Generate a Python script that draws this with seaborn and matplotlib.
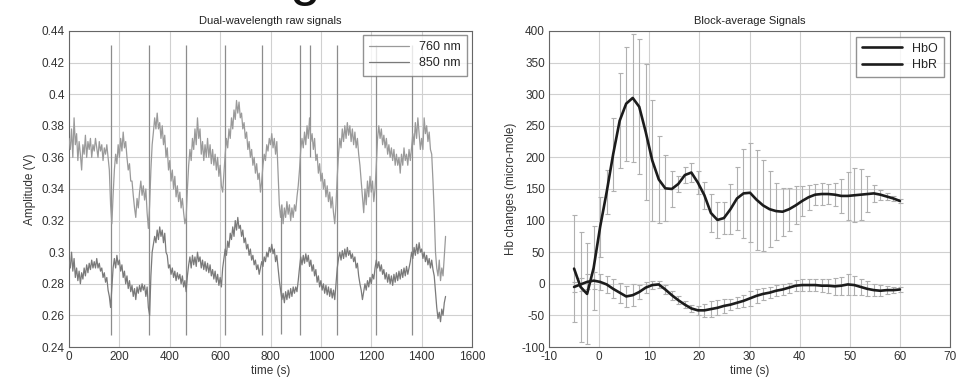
import numpy as np
import pandas as pd
import seaborn as sns
import matplotlib.pyplot as plt
from matplotlib.ticker import FuncFormatter

t_raw = np.arange(0, 1500, 5)

sig_760 = [
    0.372, 0.365, 0.378, 0.36, 0.385, 0.368, 0.375, 0.358, 0.37, 0.362,
    0.352, 0.368, 0.362, 0.374, 0.36, 0.37, 0.365, 0.372, 0.36, 0.368,
    0.364, 0.372, 0.366, 0.36, 0.37, 0.364, 0.368, 0.358, 0.366, 0.362,
    0.368, 0.36, 0.352, 0.33, 0.318, 0.336, 0.352, 0.362, 0.356, 0.368,
    0.36, 0.372, 0.364, 0.376, 0.366, 0.37, 0.36, 0.352, 0.356, 0.345,
    0.345, 0.336, 0.328, 0.322, 0.334, 0.328, 0.338, 0.345, 0.336, 0.342,
    0.333, 0.34, 0.325, 0.315, 0.33, 0.352, 0.368, 0.376, 0.385, 0.378,
    0.388, 0.378, 0.382, 0.372, 0.38, 0.368, 0.374, 0.36, 0.366, 0.352,
    0.358, 0.345, 0.352, 0.34, 0.348, 0.335, 0.342, 0.332, 0.338, 0.328,
    0.334, 0.325, 0.318, 0.322, 0.34, 0.355, 0.365, 0.358, 0.372, 0.365,
    0.378, 0.368, 0.385, 0.372, 0.378, 0.362, 0.37, 0.358, 0.368, 0.36,
    0.372, 0.36, 0.368, 0.356, 0.365, 0.355, 0.362, 0.352, 0.36, 0.348,
    0.355, 0.342, 0.338, 0.35, 0.362, 0.372, 0.366, 0.378, 0.372, 0.385,
    0.378, 0.39, 0.384, 0.396, 0.388, 0.395, 0.385, 0.388, 0.378, 0.382,
    0.372, 0.376, 0.365, 0.37, 0.36, 0.365, 0.355, 0.36, 0.35, 0.356,
    0.346, 0.35, 0.338, 0.345, 0.355, 0.362, 0.358, 0.368, 0.364, 0.372,
    0.368, 0.375, 0.366, 0.372, 0.362, 0.37, 0.35, 0.33, 0.322, 0.33,
    0.318, 0.328, 0.322, 0.332, 0.324, 0.33, 0.32, 0.328, 0.322, 0.33,
    0.326, 0.335, 0.342, 0.352, 0.365, 0.372, 0.366, 0.376, 0.368, 0.38,
    0.372, 0.385, 0.37, 0.375, 0.365, 0.372, 0.358, 0.362, 0.35, 0.356,
    0.345, 0.35, 0.34, 0.346, 0.335, 0.342, 0.332, 0.338, 0.328, 0.335,
    0.325, 0.318, 0.33, 0.348, 0.362, 0.372, 0.366, 0.378, 0.37, 0.38,
    0.372, 0.382, 0.374, 0.38, 0.37, 0.378, 0.368, 0.376, 0.366, 0.372,
    0.362, 0.355, 0.345, 0.335, 0.325, 0.34, 0.33, 0.345, 0.335, 0.348,
    0.338, 0.345, 0.332, 0.34, 0.355, 0.372, 0.38, 0.372, 0.378, 0.368,
    0.374, 0.366, 0.372, 0.362, 0.368, 0.36, 0.366, 0.358, 0.365, 0.355,
    0.362, 0.355, 0.36, 0.35, 0.362, 0.355, 0.366, 0.358, 0.362, 0.355,
    0.365, 0.358, 0.366, 0.375, 0.368, 0.382, 0.372, 0.385, 0.375, 0.365,
    0.372, 0.365, 0.385, 0.375, 0.38, 0.37, 0.376, 0.365, 0.362, 0.345,
    0.325, 0.3, 0.29, 0.285, 0.295, 0.282, 0.29, 0.285, 0.298, 0.31,
]

sig_850 = [
    0.295, 0.29, 0.3, 0.288, 0.296, 0.284, 0.29, 0.282, 0.288, 0.28,
    0.287, 0.283, 0.29, 0.285, 0.292, 0.287, 0.293, 0.289, 0.295, 0.29,
    0.294, 0.29, 0.296, 0.29, 0.293, 0.288, 0.29, 0.284, 0.287, 0.281,
    0.284, 0.276, 0.272, 0.265, 0.278, 0.29, 0.296, 0.29, 0.298, 0.292,
    0.295, 0.288, 0.292, 0.284, 0.288, 0.28, 0.285, 0.277, 0.282, 0.275,
    0.279, 0.272, 0.277, 0.27, 0.278, 0.274, 0.279, 0.275, 0.28, 0.276,
    0.279, 0.272, 0.278, 0.265, 0.26, 0.285, 0.3, 0.305, 0.31, 0.306,
    0.314, 0.308, 0.316, 0.31, 0.314, 0.306, 0.312, 0.3, 0.298, 0.29,
    0.292, 0.286, 0.29, 0.284, 0.288, 0.282, 0.287, 0.283, 0.286, 0.28,
    0.285, 0.278, 0.282, 0.275, 0.285, 0.292, 0.297, 0.29, 0.298, 0.292,
    0.297, 0.291, 0.3, 0.294, 0.297, 0.29, 0.295, 0.289, 0.294, 0.288,
    0.293, 0.287, 0.292, 0.285, 0.289, 0.283, 0.288, 0.281, 0.286, 0.279,
    0.284, 0.278, 0.29, 0.296, 0.302, 0.298, 0.307, 0.303, 0.312, 0.308,
    0.316, 0.31, 0.32, 0.314, 0.322, 0.315, 0.317, 0.31, 0.314, 0.306,
    0.309, 0.302, 0.305, 0.298, 0.302, 0.295, 0.298, 0.292, 0.295, 0.289,
    0.292, 0.286, 0.29, 0.294, 0.291, 0.297, 0.294, 0.3, 0.297, 0.303,
    0.3, 0.305, 0.299, 0.302, 0.294, 0.298, 0.29, 0.282, 0.276, 0.27,
    0.274, 0.268, 0.275, 0.27, 0.276, 0.271, 0.277, 0.272, 0.278, 0.274,
    0.278, 0.275, 0.282, 0.29, 0.297, 0.292, 0.298, 0.293, 0.299, 0.294,
    0.298, 0.291, 0.295, 0.288, 0.292, 0.285, 0.289, 0.281, 0.285, 0.278,
    0.282, 0.276, 0.28, 0.274, 0.279, 0.273, 0.278, 0.272, 0.277, 0.271,
    0.276, 0.27, 0.28, 0.29, 0.296, 0.3, 0.295, 0.301, 0.296, 0.302,
    0.297, 0.303, 0.298, 0.301, 0.296, 0.299, 0.294, 0.297, 0.29, 0.293,
    0.285, 0.28, 0.276, 0.27, 0.275, 0.28, 0.276, 0.282, 0.278, 0.284,
    0.28, 0.286, 0.283, 0.29, 0.295, 0.29, 0.294, 0.288, 0.292, 0.286,
    0.289, 0.283, 0.287, 0.281, 0.286, 0.28, 0.285, 0.279, 0.286, 0.281,
    0.287, 0.282, 0.288, 0.283, 0.289, 0.284, 0.29, 0.285, 0.291, 0.286,
    0.29, 0.294, 0.3, 0.296, 0.303, 0.298, 0.305, 0.299, 0.306, 0.3,
    0.302, 0.296, 0.3, 0.294, 0.298, 0.292, 0.296, 0.29, 0.295, 0.289,
    0.285, 0.275, 0.265, 0.258, 0.262, 0.256, 0.264, 0.26, 0.268, 0.272,
]

# stimulus marks and a couple of sharp spikes
stim_times = [165, 316, 464, 618, 765, 916, 1062, 1220, 1360]
stim_lo, stim_hi = 0.2475, 0.431
spike_t = [842, 955]
spike_lo = [0.248, 0.36]
spike_hi = [0.33, 0.431]

# ---- block averages ----
t_blk = [-5.0, -3.7, -2.4, -1.1, 0.2, 1.5, 2.8, 4.1, 5.4, 6.7, 8.0, 9.3, 10.6,
         11.9, 13.2, 14.5, 15.8, 17.1, 18.4, 19.7, 21.0, 22.3, 23.6, 24.9, 26.2,
         27.5, 28.8, 30.1, 31.4, 32.7, 34.0, 35.3, 36.6, 37.9, 39.2, 40.5, 41.8,
         43.1, 44.4, 45.7, 47.0, 48.3, 49.6, 50.9, 52.2, 53.5, 54.8, 56.1, 57.4,
         58.7, 60.0]
hbo = [24, -5, -16, 25, 90, 145, 205, 258, 285, 294, 280, 240, 195, 165, 151,
       150, 158, 172, 176, 160, 140, 112, 101, 104, 118, 135, 143, 144, 133, 124,
       118, 115, 114, 118, 124, 131, 137, 141, 142, 142, 141, 139, 139, 140, 141,
       142, 143, 141, 138, 135, 131]
hbo_err = [85, 87, 80, 66, 48, 35, 58, 75, 90, 101, 107, 108, 96, 69, 52,
           28, 13, 12, 15, 18, 21, 30, 28, 25, 40, 50, 70, 78, 79, 72,
           60, 45, 38, 34, 30, 24, 20, 17, 17, 16, 18, 27, 38, 43, 40,
           28, 14, 8, 5, 4, 3]
hbr = [-5, -1, 3, 5, 3, -1, -8, -14, -20, -18, -13, -6, -2, -1, -9,
       -18, -26, -33, -39, -42, -42, -40, -38, -35, -33, -30, -27, -23, -19, -16,
       -14, -11, -9, -6, -3, -2, -2, -2, -3, -3, -4, -3, -1, -2, -5,
       -8, -10, -11, -10, -10, -9]
hbr_err = [8, 10, 12, 13, 13, 13, 15, 16, 16, 17, 11, 9, 7, 6, 7,
           7, 6, 6, 6, 7, 10, 12, 12, 11, 9, 9, 10, 12, 11, 10,
           9, 9, 8, 8, 9, 10, 10, 10, 10, 11, 13, 14, 16, 15, 13,
           12, 9, 9, 6, 5, 4]

sns.set_style("white")
plt.rcParams['font.family'] = ['Liberation Sans', 'DejaVu Sans']
plt.rcParams['font.size'] = 8.5
plt.rcParams['axes.unicode_minus'] = False

raw = pd.DataFrame({'time': np.concatenate([t_raw, t_raw]),
                    'amp': np.concatenate([sig_760, sig_850]),
                    'wl': ['760 nm'] * len(t_raw) + ['850 nm'] * len(t_raw)})

fig = plt.figure(figsize=(9.71, 3.79), dpi=100)
ax1 = fig.add_axes([0.0711, 0.0844, 0.4150, 0.834])
ax2 = fig.add_axes([0.5654, 0.0844, 0.4130, 0.834])

# left: raw signals
ax1.vlines(stim_times, stim_lo, stim_hi, color='#8c8c8c', lw=0.9, zorder=2)
ax1.vlines(spike_t, spike_lo, spike_hi, color='#8c8c8c', lw=0.9, zorder=2)
sns.lineplot(data=raw, x='time', y='amp', hue='wl', estimator=None, sort=False,
             palette={'760 nm': '#9a9a9a', '850 nm': '#7a7a7a'}, lw=0.9,
             ax=ax1, zorder=3)
ax1.set_xlim(0, 1600)
ax1.set_ylim(0.24, 0.44)
ax1.set_xticks(np.arange(0, 1601, 200))
ax1.set_yticks(np.arange(0.24, 0.4401, 0.02))
ax1.yaxis.set_major_formatter(FuncFormatter(lambda v, p: f'{v:.2f}'.rstrip('0')))
ax1.set_title('Dual-wavelength raw signals', fontsize=8, pad=5, color='#222222')
ax1.set_xlabel('time (s)', labelpad=1)
ax1.set_ylabel('Amplitude (V)', labelpad=4)
ax1.legend(loc='upper right', bbox_to_anchor=(0.987, 0.988), frameon=True,
           fancybox=False, edgecolor='#777777', handlelength=3.2, fontsize=9,
           borderpad=0.5, labelspacing=0.35, borderaxespad=0)

# right: block average
ax2.errorbar(t_blk, hbo, yerr=hbo_err, fmt='none', ecolor='#b0b0b0',
             elinewidth=0.8, capsize=1.8, capthick=0.8, zorder=2)
ax2.errorbar(t_blk, hbr, yerr=hbr_err, fmt='none', ecolor='#b0b0b0',
             elinewidth=0.8, capsize=1.8, capthick=0.8, zorder=2)
sns.lineplot(x=t_blk, y=hbo, color='#1c1c1c', lw=1.9, label='HbO', ax=ax2, zorder=3)
sns.lineplot(x=t_blk, y=hbr, color='#1c1c1c', lw=1.9, label='HbR', ax=ax2, zorder=3)
ax2.set_xlim(-10, 70)
ax2.set_ylim(-100, 400)
ax2.set_xticks(np.arange(-10, 71, 10))
ax2.set_yticks(np.arange(-100, 401, 50))
ax2.set_title('Block-average Signals', fontsize=8, pad=5, color='#222222')
ax2.set_xlabel('time (s)', labelpad=1)
ax2.set_ylabel('Hb changes (micro-mole)', labelpad=3)
ax2.legend(loc='upper right', bbox_to_anchor=(0.985, 0.982), frameon=True,
           fancybox=False, edgecolor='#777777', handlelength=3.2, fontsize=9,
           borderpad=0.5, labelspacing=0.35, borderaxespad=0)

for ax in (ax1, ax2):
    ax.grid(True, color='#d0d0d0', lw=0.8)
    ax.set_axisbelow(True)
    ax.tick_params(direction='in', length=3, colors='#333333', labelsize=8.5, pad=3)
    for s in ax.spines.values():
        s.set_color('#666666')
        s.set_linewidth(0.8)
    ax.xaxis.label.set_color('#333333')
    ax.yaxis.label.set_color('#333333')

# clipped slide heading at the very top (only its descender shows, as in the source)
fig.text(305 / 971, 1 + 6 / 379, 'g', fontsize=40, ha='center', va='baseline',
         color='#111111')

fig.savefig('out.png', dpi=100)
